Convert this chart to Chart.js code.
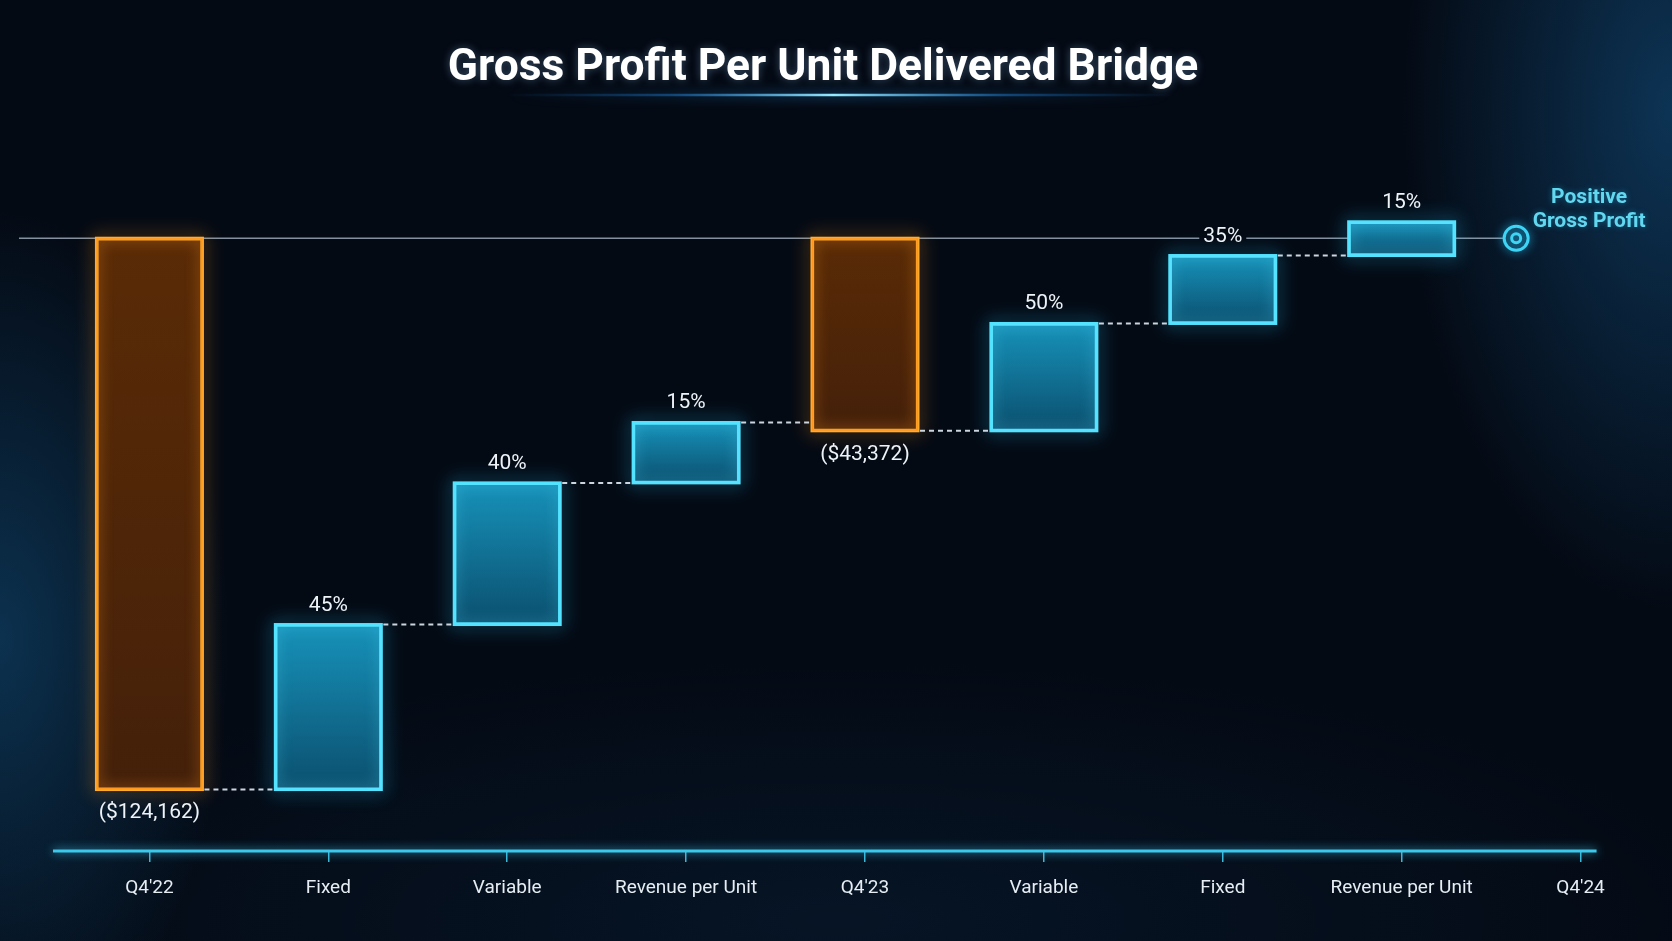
<!doctype html>
<html>

<head>
	<title>Gross Profit Per Unit Delivered Bridge</title>
	<script src="https://cdn.jsdelivr.net/npm/chart.js@4.4.1/dist/chart.umd.min.js"></script>
	<style>
	html, body {
		margin: 0;
		padding: 0;
		overflow: hidden;
	}
	body {
		width: 1672px;
		height: 941px;
		background:
			radial-gradient(ellipse 230px 430px at 0px 640px, rgba(18, 82, 128, 0.55), rgba(18, 82, 128, 0) 100%),
			radial-gradient(ellipse 270px 500px at 1672px 110px, rgba(20, 86, 138, 0.55), rgba(20, 86, 138, 0) 100%),
			radial-gradient(ellipse 900px 260px at 836px 920px, rgba(10, 40, 70, 0.35), rgba(10, 40, 70, 0) 100%),
			#040a14;
	}
	#wrap {
		position: relative;
		width: 1672px;
		height: 941px;
	}
	</style>
</head>

<body>
	<div id="wrap">
		<canvas id="bridge-canvas"></canvas>
	</div>
	<script>
    // chart data
    var titleText = 'Gross Profit Per Unit Delivered Bridge';
    var categories = ["Q4'22", 'Fixed', 'Variable', 'Revenue per Unit', "Q4'23", 'Variable', 'Fixed', 'Revenue per Unit', "Q4'24"];
    var isTotal   = [true, false, false, false, true, false, false, false, true];
    var barStart  = [0, -124162, -87000, -55100, 0, -43372, -19200, -3900, null];
    var barEnd    = [-124162, -87000, -55100, -41500, -43372, -19200, -3900, 3700, null];
    var pctLabels = ['', '45%', '40%', '15%', '', '50%', '35%', '15%', ''];
    var markerLines = ['Positive', 'Gross Profit'];
    var yMin = -138000, yMax = 30000;

    var FAM = 'Roboto, "Noto Sans", "DejaVu Sans", sans-serif';
    var ORANGE = '#ffab2c', BLUE = '#52e4ff';
    Chart.defaults.font.family = FAM;

    function pick(flag) {
      return categories.map(function(c, i) {
        return (isTotal[i] === flag && barStart[i] !== null) ? [barStart[i], barEnd[i]] : null;
      });
    }

    function fillGradient(top, bottom) {
      return function(ctx) {
        var chart = ctx.chart, y = chart.scales.y, v = ctx.raw;
        if (!y || !v || !chart.chartArea) return bottom;
        var a = y.getPixelForValue(Math.max(v[0], v[1]));
        var b = y.getPixelForValue(Math.min(v[0], v[1]));
        if (!isFinite(a) || !isFinite(b) || a === b) return bottom;
        var g = chart.ctx.createLinearGradient(0, a, 0, b);
        g.addColorStop(0, top);
        g.addColorStop(1, bottom);
        return g;
      };
    }

    function elFor(chart, i) {
      if (barStart[i] === null) return null;
      return chart.getDatasetMeta(isTotal[i] ? 0 : 1).data[i];
    }

    function rectOf(el) {
      return {
        l: el.x - el.width / 2, r: el.x + el.width / 2,
        t: Math.min(el.y, el.base), b: Math.max(el.y, el.base)
      };
    }

    function markerX(chart) {
      var x = chart.scales.x, n = categories.length;
      var a = x.getPixelForValue(n - 2), b = x.getPixelForValue(n - 1);
      return a + 0.64 * (b - a);
    }

    var bridgeDecor = {
      id: 'bridgeDecor',
      beforeDraw: function(chart) {
        var c = chart.ctx;
        // title, fitted to the reference width
        c.save();
        c.font = 'bold 46px ' + FAM;
        var size = 46 * 751 / c.measureText(titleText).width;
        c.font = 'bold ' + size.toFixed(1) + 'px ' + FAM;
        c.fillStyle = '#ffffff';
        c.textAlign = 'center';
        c.textBaseline = 'alphabetic';
        c.shadowColor = 'rgba(150,200,255,0.35)';
        c.shadowBlur = 8;
        c.fillText(titleText, 823, 80);
        c.restore();

        // glowing underline
        c.save();
        var g = c.createLinearGradient(505, 0, 1175, 0);
        g.addColorStop(0, 'rgba(20,110,200,0)');
        g.addColorStop(0.25, 'rgba(30,130,220,0.45)');
        g.addColorStop(0.49, 'rgba(150,235,255,1)');
        g.addColorStop(0.75, 'rgba(30,130,220,0.45)');
        g.addColorStop(1, 'rgba(20,110,200,0)');
        c.strokeStyle = g;
        c.lineWidth = 2.5;
        c.shadowColor = 'rgba(40,160,255,0.9)';
        c.shadowBlur = 12;
        c.beginPath();
        c.moveTo(505, 95);
        c.lineTo(1175, 95);
        c.stroke();
        c.restore();
      },
      beforeDatasetsDraw: function(chart) {
        var c = chart.ctx, y0 = chart.scales.y.getPixelForValue(0);
        c.save();
        c.strokeStyle = 'rgba(175,190,205,0.75)';
        c.lineWidth = 1.5;
        c.beginPath();
        c.moveTo(chart.chartArea.left - 41, y0);
        c.lineTo(markerX(chart) - 13, y0);
        c.stroke();
        c.restore();
      },
      beforeDatasetDraw: function(chart, args) {
        var c = chart.ctx, col = args.index === 0 ? ORANGE : BLUE;
        c.save();
        c.strokeStyle = col;
        c.lineWidth = 3;
        c.shadowColor = args.index === 0 ? 'rgba(255,150,30,0.9)' : 'rgba(40,200,255,0.9)';
        c.shadowBlur = 18;
        args.meta.data.forEach(function(el, i) {
          if (!args.meta._dataset.data[i]) return;
          var r = rectOf(el);
          c.strokeRect(r.l, r.t, r.r - r.l, r.b - r.t);
        });
        c.restore();
      },
      afterDatasetDraw: function(chart, args) {
        var c = chart.ctx;
        c.save();
        c.strokeStyle = args.index === 0 ? 'rgba(255,150,30,0.9)' : 'rgba(90,225,255,0.8)';
        c.shadowColor = c.strokeStyle;
        c.shadowBlur = 14;
        c.lineWidth = 3;
        args.meta.data.forEach(function(el, i) {
          if (!args.meta._dataset.data[i]) return;
          var r = rectOf(el);
          c.save();
          c.beginPath();
          c.rect(r.l, r.t, r.r - r.l, r.b - r.t);
          c.clip();
          c.strokeRect(r.l, r.t, r.r - r.l, r.b - r.t);
          c.restore();
        });
        c.restore();
      },
      afterDatasetsDraw: function(chart) {
        var c = chart.ctx, ys = chart.scales.y, xs = chart.scales.x;
        var y0 = ys.getPixelForValue(0);
        var i, a, b, ra, rb, yy;

        // dashed connectors
        c.save();
        c.strokeStyle = 'rgba(225,235,245,0.9)';
        c.lineWidth = 2;
        c.setLineDash([5, 4]);
        for (i = 0; i < categories.length - 1; i++) {
          a = elFor(chart, i);
          b = elFor(chart, i + 1);
          if (!a || !b) continue;
          ra = rectOf(a);
          rb = rectOf(b);
          yy = ys.getPixelForValue(barEnd[i]);
          c.beginPath();
          c.moveTo(ra.r + 2, yy);
          c.lineTo(rb.l - 2, yy);
          c.stroke();
        }
        c.restore();

        // value labels
        c.save();
        c.textAlign = 'center';
        c.fillStyle = '#eef3f8';
        c.font = '21px ' + FAM;
        for (i = 0; i < categories.length; i++) {
          a = elFor(chart, i);
          if (!a) continue;
          ra = rectOf(a);
          if (isTotal[i]) {
            c.textBaseline = 'top';
            c.fillText('($' + Math.abs(barEnd[i]).toLocaleString('en-US') + ')', a.x, ra.b + 13);
          } else if (pctLabels[i]) {
            var ty = ra.t - 14, w = c.measureText(pctLabels[i]).width;
            if (y0 > ty - 18 && y0 < ty + 4) {
              c.save();
              c.fillStyle = '#050b17';
              c.fillRect(a.x - w / 2 - 4, y0 - 2, w + 8, 4);
              c.restore();
            }
            c.textBaseline = 'alphabetic';
            c.fillText(pctLabels[i], a.x, ty);
          }
        }
        c.restore();

        // positive gross profit marker
        var mx = markerX(chart);
        c.save();
        c.strokeStyle = '#3fd6f6';
        c.shadowColor = 'rgba(40,200,255,0.9)';
        c.shadowBlur = 10;
        c.lineWidth = 3;
        c.beginPath();
        c.arc(mx, y0, 12, 0, Math.PI * 2);
        c.stroke();
        c.beginPath();
        c.arc(mx, y0, 4.5, 0, Math.PI * 2);
        c.stroke();
        c.restore();

        c.save();
        c.font = 'bold 21px ' + FAM;
        c.fillStyle = '#62d8f0';
        c.textAlign = 'center';
        c.textBaseline = 'middle';
        c.shadowColor = 'rgba(40,200,255,0.4)';
        c.shadowBlur = 6;
        c.fillText(markerLines[0], mx + 73, y0 - 40);
        c.fillText(markerLines[1], mx + 73, y0 - 16);
        c.restore();

        // glowing x axis line
        var lastX = xs.getPixelForValue(categories.length - 1);
        c.save();
        c.strokeStyle = '#3cc8ea';
        c.lineWidth = 3;
        c.shadowColor = 'rgba(60,200,240,0.9)';
        c.shadowBlur = 10;
        c.beginPath();
        c.moveTo(chart.chartArea.left - 7, chart.chartArea.bottom);
        c.lineTo(lastX + 16, chart.chartArea.bottom);
        c.stroke();
        c.restore();
      }
    };

    var bridgeConfig = {
      type: 'bar',
      data: {
        labels: categories,
        datasets: [{
          label: 'Totals',
          data: pick(true),
          grouped: false,
          barThickness: 106,
          borderWidth: 2.5,
          borderSkipped: false,
          borderColor: ORANGE,
          backgroundColor: fillGradient('#5a2b06', '#44200a'),
          clip: false
        }, {
          label: 'Changes',
          data: pick(false),
          grouped: false,
          barThickness: 106,
          borderWidth: 2.5,
          borderSkipped: false,
          borderColor: BLUE,
          backgroundColor: fillGradient('#1792ba', '#0b4f6e'),
          clip: false
        }]
      },
      options: {
        responsive: true,
        maintainAspectRatio: false,
        animation: false,
        layout: { padding: { top: 105, left: 60, right: 2, bottom: 0 } },
        plugins: {
          legend: { display: false },
          tooltip: { enabled: false },
          title: { display: false }
        },
        scales: {
          x: {
            offset: true,
            grid: {
              display: true,
              drawOnChartArea: false,
              drawTicks: true,
              tickLength: 11,
              offset: false,
              color: '#3ab8da',
              lineWidth: 1.5
            },
            border: { display: false },
            ticks: {
              color: '#e6edf3',
              font: { size: 19 },
              padding: 15,
              autoSkip: false,
              maxRotation: 0
            },
            afterFit: function(scale) { scale.height = 90; }
          },
          y: { display: false, min: yMin, max: yMax }
        }
      },
      plugins: [bridgeDecor]
    };

		window.onload = function() {
      var ctx = document.getElementById('bridge-canvas').getContext('2d');
      window.bridgeChart = new Chart(ctx, bridgeConfig);
		};
	</script>
</body>

</html>
